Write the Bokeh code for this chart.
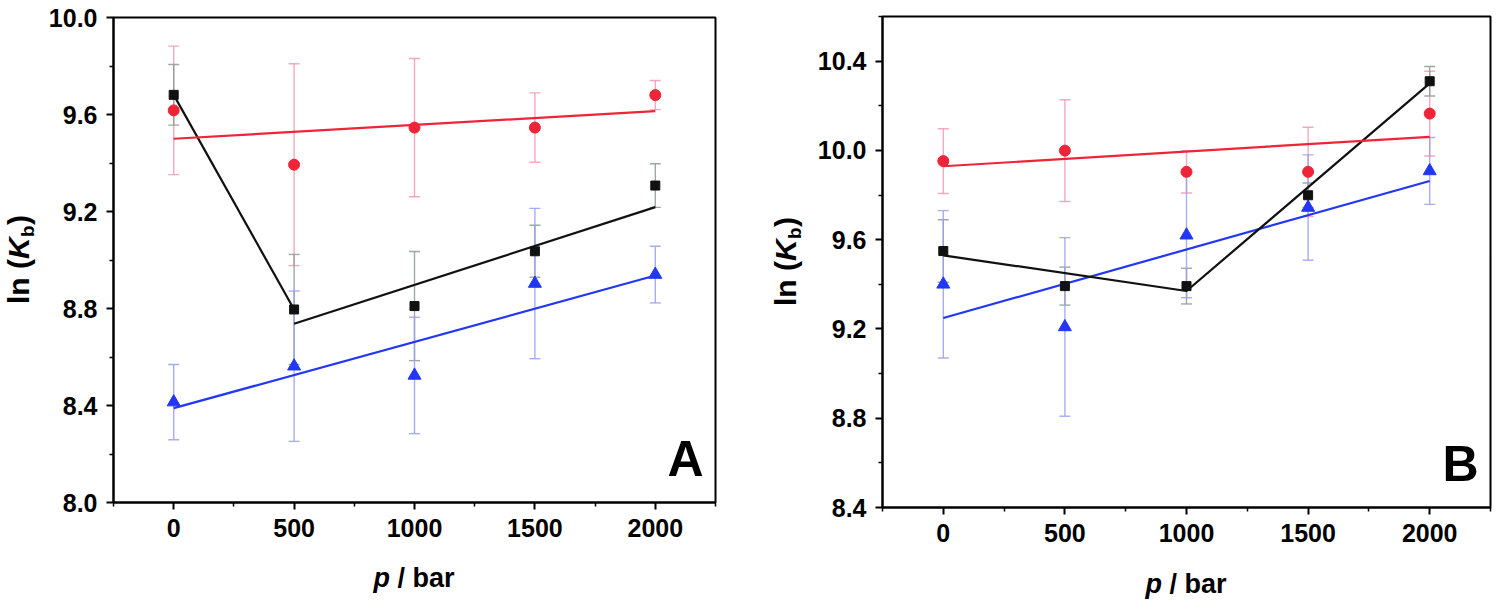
import math
from bokeh.plotting import figure
from bokeh.models import (ColumnDataSource, Whisker, TeeHead, FixedTicker, Label,
                          Range1d, PrintfTickFormatter, LinearAxis)
from bokeh.layouts import row
from bokeh.embed import file_html
from bokeh.resources import INLINE

# ---------------- data ----------------
p_bar = [0, 500, 1000, 1500, 2000]
x_ticks = [0, 500, 1000, 1500, 2000]
x_minor = [-250, 250, 750, 1250, 1750, 2250]
x_lim = (-250, 2250)

# Panel A
a_red = [9.617, 9.393, 9.546, 9.546, 9.680]
a_red_err = [0.265, 0.416, 0.285, 0.143, 0.060]
a_black = [9.681, 8.796, 8.810, 9.036, 9.307]
a_black_err = [0.125, 0.227, 0.225, 0.107, 0.090]
a_blue = [8.414, 8.562, 8.524, 8.903, 8.940]
a_blue_err = [0.155, 0.310, 0.240, 0.310, 0.117]
a_red_fit_x = [0, 2000]
a_red_fit_y = [9.500, 9.614]
a_black_fit_x = [[0, 500], [500, 2000]]
a_black_fit_y = [[9.681, 8.796], [8.737, 9.218]]
a_blue_fit_x = [0, 2000]
a_blue_fit_y = [8.389, 8.936]
a_ylim = (8.0, 10.0)
a_yticks = [8.0, 8.4, 8.8, 9.2, 9.6, 10.0]
a_yminor = [8.2, 8.6, 9.0, 9.4, 9.8]

# Panel B
b_red = [9.952, 9.999, 9.904, 9.904, 10.165]
b_red_err = [0.145, 0.228, 0.095, 0.200, 0.190]
b_black = [9.549, 9.392, 9.392, 9.799, 10.310]
b_black_err = [0.140, 0.085, 0.080, 0.055, 0.066]
b_blue = [9.400, 9.209, 9.620, 9.744, 9.908]
b_blue_err = [0.330, 0.400, 0.280, 0.236, 0.150]
b_red_fit_x = [0, 2000]
b_red_fit_y = [9.929, 10.061]
b_black_fit_x = [[0, 1000, 2000]]
b_black_fit_y = [[9.530, 9.370, 10.300]]
b_blue_fit_x = [0, 2000]
b_blue_fit_y = [9.249, 9.863]
b_ylim = (8.4, 10.6)
b_yticks = [8.4, 8.8, 9.2, 9.6, 10.0, 10.4]
b_yminor = [8.6, 9.0, 9.4, 9.8, 10.2, 10.6]

RED = "#EE2438"
RED_ERR = "#F29AB2"
BLACK = "#111111"
GREY_ERR = "#8C9C90"
BLUE = "#2236F5"
BLUE_ERR = "#98A0EE"
FONT = "Liberation Sans"
H = 614


def add_err(p, x, y, err, color):
    src = ColumnDataSource(dict(x=x, upper=[v + e for v, e in zip(y, err)],
                                lower=[v - e for v, e in zip(y, err)]))
    w = Whisker(base="x", upper="upper", lower="lower", source=src, dimension="height",
                line_color=color, line_width=1.4, line_alpha=0.85,
                upper_head=TeeHead(size=11, line_color=color, line_width=1.4, line_alpha=0.85),
                lower_head=TeeHead(size=11, line_color=color, line_width=1.4, line_alpha=0.85))
    p.add_layout(w)


def make_panel(width, box_l, box_r, box_t, box_b, ylim, yticks, yminor,
               red, red_err, black, black_err, blue, blue_err,
               rfx, rfy, kfx, kfy, bfx, bfy, letter, ylab_x_off, xlab_off):
    # the frame covers the whole canvas; the data box sits at pixel box_l..box_r, box_t..box_b
    xs = (box_r - box_l) / (x_lim[1] - x_lim[0])
    ys = (box_b - box_t) / (ylim[1] - ylim[0])
    xr = Range1d(x_lim[0] - box_l / xs, x_lim[1] + (width - box_r) / xs)
    yr = Range1d(ylim[0] - (H - box_b) / ys, ylim[1] + box_t / ys)

    p = figure(width=width, height=H, x_range=xr, y_range=yr,
               output_backend="svg", toolbar_location=None,
               x_axis_location=None, y_axis_location=None,
               min_border=0, background_fill_color="white",
               border_fill_color="white")
    p.grid.visible = False
    p.outline_line_color = None

    xax = LinearAxis(fixed_location=ylim[0], bounds=x_lim,
                     ticker=FixedTicker(ticks=x_ticks, minor_ticks=x_minor))
    yax = LinearAxis(fixed_location=x_lim[0], bounds=ylim,
                     ticker=FixedTicker(ticks=yticks, minor_ticks=yminor),
                     formatter=PrintfTickFormatter(format="%.1f"))
    for ax in (xax, yax):
        ax.axis_line_width = 2
        ax.axis_line_color = "black"
        ax.major_tick_line_width = 2
        ax.major_tick_out = 7
        ax.major_tick_in = 0
        ax.minor_tick_line_width = 1.5
        ax.minor_tick_out = 4
        ax.minor_tick_in = 0
        ax.major_label_text_font = FONT
        ax.major_label_text_font_style = "bold"
        ax.major_label_text_font_size = "25px"
        ax.major_label_text_color = "black"
        ax.major_label_standoff = 9
    p.add_layout(xax, "below")
    p.add_layout(yax, "left")

    # box around the data area (top and right sides)
    p.quad(left=[x_lim[0]], right=[x_lim[1]], bottom=[ylim[0]], top=[ylim[1]],
           fill_color=None, line_color="black", line_width=2)

    add_err(p, p_bar, red, red_err, RED_ERR)
    add_err(p, p_bar, black, black_err, GREY_ERR)
    add_err(p, p_bar, blue, blue_err, BLUE_ERR)

    p.line(bfx, bfy, line_color=BLUE, line_width=2.2)
    p.multi_line(kfx, kfy, line_color=BLACK, line_width=2.2)
    p.line(rfx, rfy, line_color=RED, line_width=2.2)

    p.scatter(p_bar, blue, marker="triangle", size=13, fill_color=BLUE, line_color=BLUE)
    p.scatter(p_bar, black, marker="square", size=9, fill_color=BLACK, line_color=BLACK)
    p.scatter(p_bar, red, marker="circle", size=11, fill_color=RED, line_color=RED)

    ymid = (ylim[0] + ylim[1]) / 2.0
    # y axis label: ln (K_b), rotated
    common = dict(x=x_lim[0], y=ymid, angle=math.pi / 2, text_font=FONT,
                  text_baseline="middle", text_align="left", text_color="black")
    p.add_layout(Label(text="ln (", x_offset=ylab_x_off, y_offset=-44,
                       text_font_size="30px", text_font_style="bold", **common))
    p.add_layout(Label(text="K", x_offset=ylab_x_off, y_offset=1,
                       text_font_size="30px", text_font_style="bold italic", **common))
    p.add_layout(Label(text="b", x_offset=ylab_x_off + 9, y_offset=23,
                       text_font_size="19px", text_font_style="bold", **common))
    p.add_layout(Label(text=")", x_offset=ylab_x_off, y_offset=35,
                       text_font_size="30px", text_font_style="bold", **common))

    # x axis label: p / bar
    xmid = (x_lim[0] + x_lim[1]) / 2.0
    p.add_layout(Label(text="p", x=xmid, y=ylim[0], x_offset=-41, y_offset=xlab_off,
                       text_font=FONT, text_font_size="27px", text_font_style="bold italic",
                       text_align="left", text_baseline="middle", text_color="black"))
    p.add_layout(Label(text="/ bar", x=xmid, y=ylim[0], x_offset=-17, y_offset=xlab_off,
                       text_font=FONT, text_font_size="27px", text_font_style="bold",
                       text_align="left", text_baseline="middle", text_color="black"))

    # panel letter
    p.add_layout(Label(text=letter, x=x_lim[1], y=ylim[0], x_offset=-12, y_offset=44,
                       text_font=FONT, text_font_size="50px", text_font_style="bold",
                       text_align="right", text_baseline="middle", text_color="black"))
    return p


pa = make_panel(765, 113, 715, 17, 502, a_ylim, a_yticks, a_yminor,
                a_red, a_red_err, a_black, a_black_err, a_blue, a_blue_err,
                a_red_fit_x, a_red_fit_y, a_black_fit_x, a_black_fit_y,
                a_blue_fit_x, a_blue_fit_y, "A", -95, -75)
pb = make_panel(735, 117, 725, 16, 507, b_ylim, b_yticks, b_yminor,
                b_red, b_red_err, b_black, b_black_err, b_blue, b_blue_err,
                b_red_fit_x, b_red_fit_y, b_black_fit_x, b_black_fit_y,
                b_blue_fit_x, b_blue_fit_y, "B", -97, -76)

layout = row(pa, pb)
open("out.html", "w").write(file_html(layout, INLINE))
